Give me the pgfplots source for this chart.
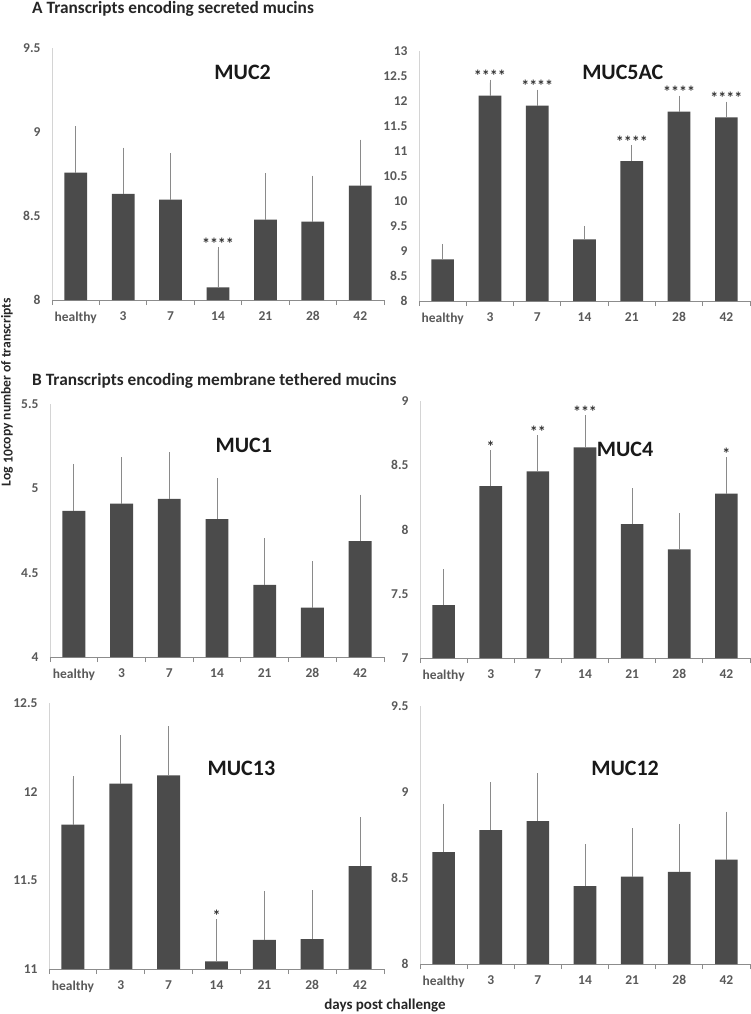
\documentclass[border=0pt]{standalone}
\usepackage{fontspec}
\setmainfont{Carlito}
\usepackage{pgfplots}
\pgfplotsset{compat=1.18}

\definecolor{barcol}{HTML}{4B4B4B}
\definecolor{errcol}{HTML}{8A8A8A}
\definecolor{labcol}{HTML}{595959}
\definecolor{xaxcol}{HTML}{8C8C8C}
\definecolor{yaxcol}{HTML}{D4D4D4}

\tikzset{ttl/.style={font=\bfseries\fontsize{22}{26}\selectfont, text=black!90}}

\pgfplotsset{
  mucin/.style={
    scale only axis, anchor=south west,
    xmin=-0.5, xmax=6.5,
    axis x line=bottom, axis y line=left,
    axis line style={-}, x axis line style={xaxcol, line width=0.8pt},
    y axis line style={yaxcol, line width=0.8pt},
    xtick={0,...,6}, xticklabels={healthy,3,7,14,21,28,42},
    minor xtick={-0.5,0.5,...,6.5},
    major tick length=0pt, minor tick length=5pt,
    minor tick style={xaxcol, line width=0.8pt},
    tick align=outside,
    ytick distance=0.5,
    /pgf/number format/assume math mode=true,
    tick label style={font=\bfseries\fontsize{13.5}{15}\selectfont, text=labcol},
    xticklabel style={yshift=-8pt},
    yticklabel style={anchor=east, xshift=-8pt},
  },
  bars/.style={ybar, bar width=0.48, fill=barcol, draw=none,
    error bars/y dir=plus, error bars/y explicit,
    error bars/error bar style={errcol, line width=0.8pt},
    error bars/error mark options={errcol, mark size=3pt, line width=0.8pt}},
  stars/.style={only marks, mark=none, nodes near coords, point meta=explicit symbolic,
    nodes near coords style={anchor=south, inner sep=0.5pt, text=black!80,
      font=\bfseries\fontsize{16}{18}\selectfont}},
}

\begin{document}
\begin{tikzpicture}
\path[use as bounding box] (0,0) rectangle (750pt,-1014pt);

\node[anchor=base west, inner sep=0pt, font=\bfseries\fontsize{17.3}{20}\selectfont, text=black!85] at (32pt,-14pt) {A Transcripts encoding secreted mucins};
\node[anchor=base west, inner sep=0pt, font=\bfseries\fontsize{17.3}{20}\selectfont, text=black!85] at (32pt,-385pt) {B Transcripts encoding membrane tethered mucins};
\node[rotate=90, font=\bfseries\fontsize{13.6}{15}\selectfont, text=black!85] at (7pt,-392pt) {Log \raisebox{-2pt}{10}copy number of transcripts};
\node[anchor=base, font=\bfseries\fontsize{15}{17}\selectfont, text=black!85] at (385pt,-1009pt) {days post challenge};

% MUC2
\begin{axis}[mucin, at={(52pt,-300pt)}, width=332pt, height=252pt, ymin=8, ymax=9.5]
\addplot[bars] coordinates {
 (0,8.758) +- (0,0.258) (1,8.632) +- (0,0.257) (2,8.598) +- (0,0.257)
 (3,8.075) +- (0,0.224) (4,8.479) +- (0,0.258) (5,8.467) +- (0,0.256)
 (6,8.681) +- (0,0.256)};
\addplot[stars] coordinates {(3,8.299)[****]};
\node[ttl] at (axis cs:3.52,9.356) {MUC2};
\end{axis}

% MUC5AC
\begin{axis}[mucin, at={(419pt,-301pt)}, width=331pt, height=250pt, ymin=8, ymax=13]
\addplot[bars] coordinates {
 (0,8.832) +- (0,0.253) (1,12.108) +- (0,0.260) (2,11.908) +- (0,0.260)
 (3,9.231) +- (0,0.213) (4,10.796) +- (0,0.260) (5,11.788) +- (0,0.260)
 (6,11.675) +- (0,0.253)};
\addplot[stars] coordinates {(1,12.368)[****] (2,12.168)[****] (4,11.056)[****] (5,12.048)[****] (6,11.928)[****]};
\node[ttl] at (axis cs:3.81,12.58) {MUC5AC};
\end{axis}

% MUC1
\begin{axis}[mucin, at={(50pt,-657pt)}, width=334pt, height=253pt, ymin=4, ymax=5.5]
\addplot[bars] coordinates {
 (0,4.867) +- (0,0.260) (1,4.909) +- (0,0.257) (2,4.937) +- (0,0.259)
 (3,4.818) +- (0,0.224) (4,4.428) +- (0,0.259) (5,4.293) +- (0,0.256)
 (6,4.687) +- (0,0.258)};
\node[ttl] at (axis cs:3.56,5.257) {MUC1};
\end{axis}

% MUC4
\begin{axis}[mucin, at={(420pt,-658pt)}, width=330pt, height=257pt, ymin=7, ymax=9]
\addplot[bars] coordinates {
 (0,7.412) +- (0,0.256) (1,8.337) +- (0,0.256) (2,8.453) +- (0,0.259)
 (3,8.640) +- (0,0.225) (4,8.041) +- (0,0.257) (5,7.845) +- (0,0.259)
 (6,8.280) +- (0,0.259)};
\addplot[stars] coordinates {(1,8.593)[*] (2,8.712)[**] (3,8.865)[***] (6,8.539)[*]};
\node[ttl] at (axis cs:3.85,8.62) {MUC4};
\end{axis}

% MUC13
\begin{axis}[mucin, at={(49pt,-969pt)}, width=335pt, height=266pt, ymin=11, ymax=12.5]
\addplot[bars] coordinates {
 (0,11.814) +- (0,0.257) (1,12.045) +- (0,0.257) (2,12.092) +- (0,0.259)
 (3,11.043) +- (0,0.222) (4,11.165) +- (0,0.257) (5,11.169) +- (0,0.259)
 (6,11.580) +- (0,0.259)};
\addplot[stars] coordinates {(3,11.265)[*]};
\node[ttl] at (axis cs:3.52,12.13) {MUC13};
\end{axis}

% MUC12
\begin{axis}[mucin, at={(420pt,-964pt)}, width=330pt, height=258pt, ymin=8, ymax=9.5]
\addplot[bars] coordinates {
 (0,8.651) +- (0,0.264) (1,8.779) +- (0,0.260) (2,8.831) +- (0,0.260)
 (3,8.453) +- (0,0.225) (4,8.508) +- (0,0.263) (5,8.535) +- (0,0.262)
 (6,8.607) +- (0,0.261)};
\node[ttl] at (axis cs:3.85,9.14) {MUC12};
\end{axis}
\end{tikzpicture}
\end{document}
